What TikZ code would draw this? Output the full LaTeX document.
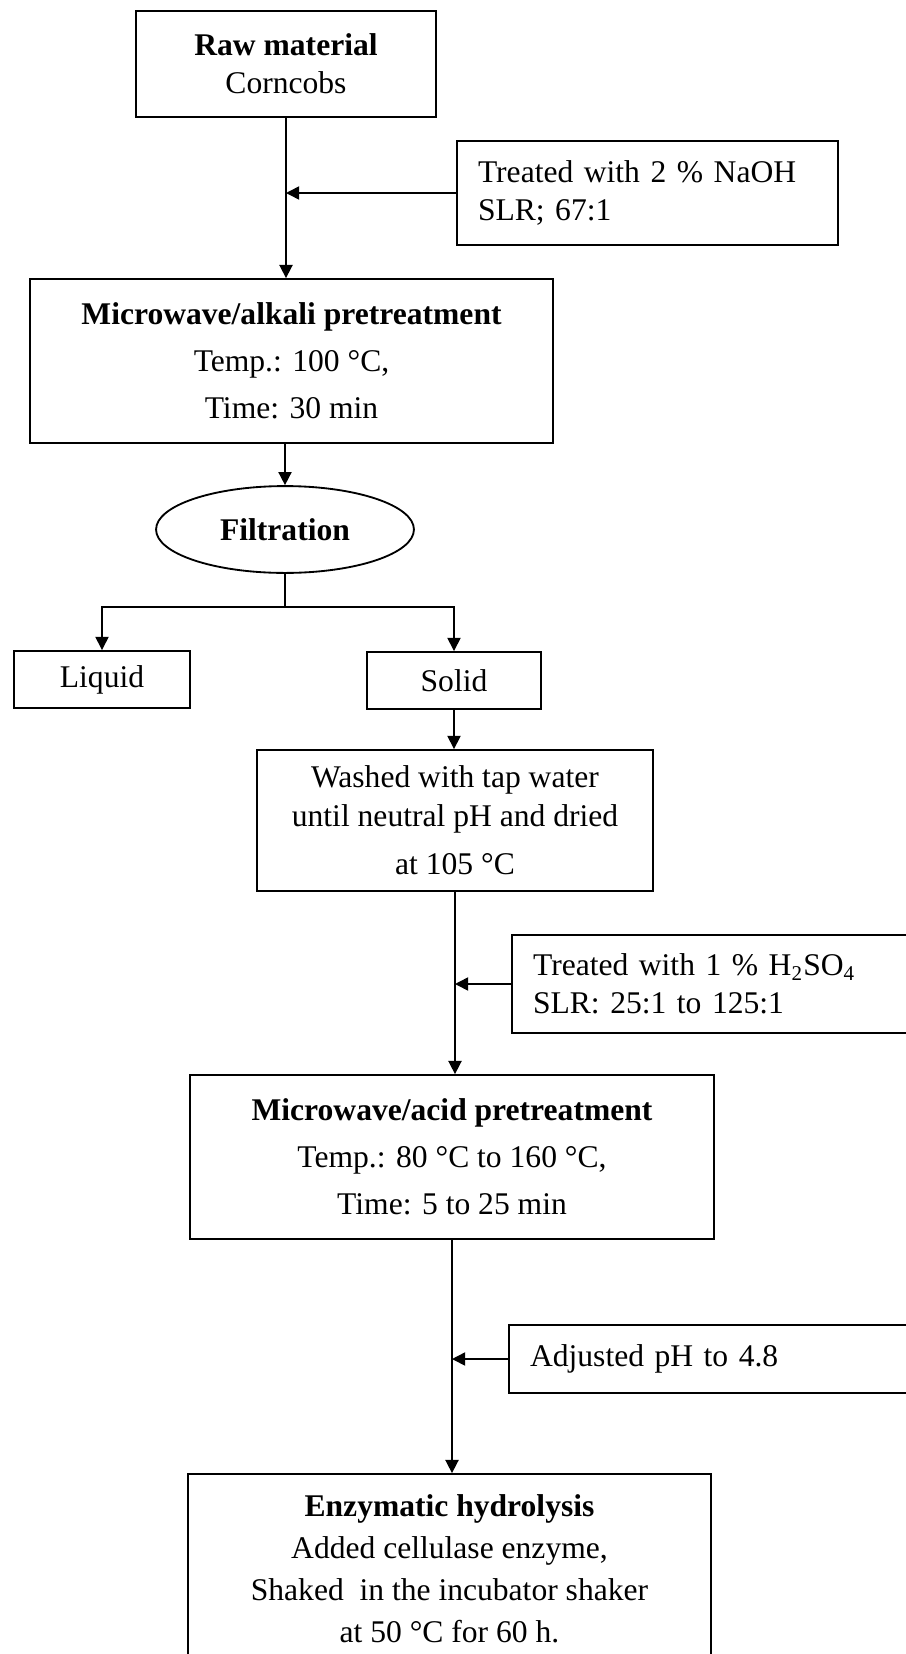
\documentclass[tikz,border=0pt]{standalone}
\usepackage{fontspec}
\setmainfont{Liberation Serif}
\usetikzlibrary{arrows.meta,shapes.geometric}

\begin{document}
\begin{tikzpicture}[
  x=0.38pt, y=-0.38pt,
  box/.style={draw, line width=0.7pt, align=center, inner sep=0pt, font=\fontsize{12}{14.5}\selectfont},
  sidebox/.style={draw, line width=0.7pt, align=left, inner xsep=8pt, inner ysep=0pt, text width=143.6pt, font=\fontsize{12}{14.5}\selectfont},
  arr/.style={-{Triangle[length=5pt, width=5pt]}, line width=0.6pt},
]
  \useasboundingbox (0,0) rectangle (905,1654);

  \node[box, minimum width=114pt, minimum height=40.3pt] (raw) at (286,64) {\textbf{Raw material}\\Corncobs};
  \node[sidebox, text width=128.8pt, minimum height=39.5pt] (naoh) at (647.5,193) {Treated with 2 \% NaOH\\SLR; 67:1};
  \node[box, minimum width=198.7pt, minimum height=62.3pt] (alkali) at (291.5,361) {\textbf{Microwave/alkali pretreatment}\\[3.4pt]Temp.: 100 °C,\\[3.4pt]Time: 30 min};
  \node[box, ellipse, minimum width=98pt, minimum height=33pt] (filt) at (285,529.5) {\textbf{Filtration}};
  \coordinate (split) at (285,607);
  \node[box, minimum width=66.9pt, minimum height=21.7pt] (liquid) at (102,679.5) {Liquid};
  \node[box, minimum width=66.1pt, minimum height=21.7pt] (solid) at (454,680.5) {Solid};
  \node[box, minimum width=150.5pt, minimum height=53.6pt] (washed) at (455,820.5) {Washed with tap water\\until neutral pH and dried\\[4pt]at 105 °C};
  \node[sidebox, minimum height=37.2pt] (acidin) at (722,984) {Treated with 1 \% H\textsubscript{2}SO\textsubscript{4}\\SLR: 25:1 to 125:1};
  \node[box, minimum width=199.1pt, minimum height=62.3pt] (acid) at (452,1157) {\textbf{Microwave/acid pretreatment}\\[3.4pt]Temp.: 80 °C to 160 °C,\\[3.4pt]Time: 5 to 25 min};
  \node[sidebox, minimum height=25.8pt] (ph) at (719,1359) {Adjusted pH to 4.8};
  \node[box, minimum width=198.7pt, minimum height=71.8pt] (enzyme) at (449.5,1568.5) {\textbf{Enzymatic hydrolysis}\\[1.5pt]Added cellulase enzyme,\\[1.5pt]Shaked\ \ in the incubator shaker\\[1.5pt]at 50 °C for 60 h.};

  \draw[arr] (raw.south) -- (raw.south |- alkali.north);
  \draw[arr] (naoh.west) -- (raw.south |- naoh.west);
  \draw[arr] (filt.north |- alkali.south) -- (filt.north);
  \draw[line width=0.6pt] (filt.south) -- (split);
  \draw[arr] (split) -| (liquid.north);
  \draw[arr] (split) -| (solid.north);
  \draw[arr] (solid.south) -- (solid.south |- washed.north);
  \draw[arr] (washed.south) -- (washed.south |- acid.north);
  \draw[arr] (acidin.west) -- (washed.south |- acidin.west);
  \draw[arr] (acid.south) -- (acid.south |- enzyme.north);
  \draw[arr] (ph.west) -- (acid.south |- ph.west);
\end{tikzpicture}
\end{document}
